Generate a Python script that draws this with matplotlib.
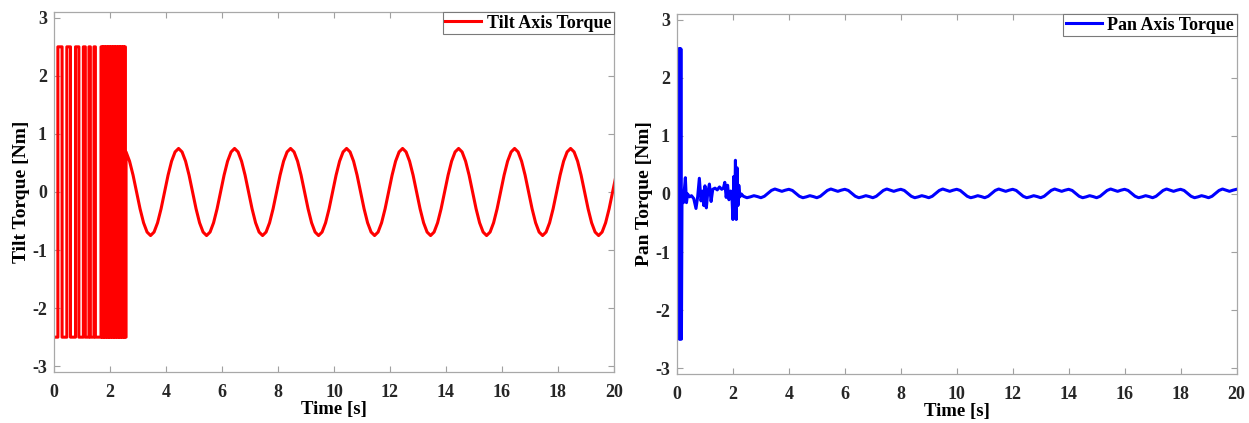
import numpy as np
import matplotlib

matplotlib.use("Agg")
import matplotlib.pyplot as plt

# tilt axis: chattering square wave, switch times [s] and level after each switch [Nm]
tilt_switch_t = [
    0.00, 0.14, 0.29, 0.46, 0.59, 0.77, 0.89, 1.05, 1.12, 1.25, 1.30, 1.43, 1.48,
    1.68, 1.71, 1.74, 1.77, 1.80, 1.83, 1.86, 1.89, 1.92, 1.95, 1.98, 2.01, 2.04,
    2.07, 2.10, 2.13, 2.16, 2.19, 2.22, 2.25, 2.28, 2.31, 2.34, 2.37, 2.40, 2.43,
    2.46, 2.49, 2.52, 2.55, 2.575,
]
tilt_switch_level = [
    -2.5, 2.5, -2.5, 2.5, -2.5, 2.5, -2.5, 2.5, -2.5, 2.5, -2.5, 2.5, -2.5,
    2.5, -2.5, 2.5, -2.5, 2.5, -2.5, 2.5, -2.5, 2.5, -2.5, 2.5, -2.5, 2.5,
    -2.5, 2.5, -2.5, 2.5, -2.5, 2.5, -2.5, 2.5, -2.5, 2.5, -2.5, 2.5, -2.5,
    2.5, -2.5, 2.5, -2.5, -2.5,
]

# tilt axis after chattering, read every 0.125 s from 2.575 s
tilt_osc_t0, tilt_osc_dt = 2.575, 0.125
tilt_osc = [
    0.69, 0.53, 0.29, 0.0, -0.29, -0.53, -0.69, -0.75, -0.69, -0.53, -0.29, 0.0, 0.29, 0.53, 0.69, 0.75,
    0.69, 0.53, 0.29, 0.0, -0.29, -0.53, -0.69, -0.75, -0.69, -0.53, -0.29, 0.0, 0.29, 0.53, 0.69, 0.75,
    0.69, 0.53, 0.29, 0.0, -0.29, -0.53, -0.69, -0.75, -0.69, -0.53, -0.29, 0.0, 0.29, 0.53, 0.69, 0.75,
    0.69, 0.53, 0.29, 0.0, -0.29, -0.53, -0.69, -0.75, -0.69, -0.53, -0.29, 0.0, 0.29, 0.53, 0.69, 0.75,
    0.69, 0.53, 0.29, 0.0, -0.29, -0.53, -0.69, -0.75, -0.69, -0.53, -0.29, 0.0, 0.29, 0.53, 0.69, 0.75,
    0.69, 0.53, 0.29, 0.0, -0.29, -0.53, -0.69, -0.75, -0.69, -0.53, -0.29, 0.0, 0.29, 0.53, 0.69, 0.75,
    0.69, 0.53, 0.29, 0.0, -0.29, -0.53, -0.69, -0.75, -0.69, -0.53, -0.29, 0.0, 0.29, 0.53, 0.69, 0.75,
    0.69, 0.53, 0.29, 0.0, -0.29, -0.53, -0.69, -0.75, -0.69, -0.53, -0.29, 0.0, 0.29, 0.53, 0.69, 0.75,
    0.69, 0.53, 0.29, 0.0, -0.29, -0.53, -0.69, -0.75, -0.69, -0.53, -0.29, 0.0, 0.29,
]

# pan axis transient (start spike + noisy part)
pan_transient_t = [
    0.00, 0.04, 0.06, 0.08, 0.10, 0.12, 0.14, 0.16, 0.18, 0.20, 0.23, 0.26, 0.30,
    0.34, 0.38, 0.45, 0.52, 0.60, 0.68, 0.74, 0.80, 0.86, 0.92, 0.96, 1.00, 1.05,
    1.10, 1.16, 1.22, 1.28, 1.36, 1.44, 1.52, 1.60, 1.66, 1.71, 1.76, 1.81, 1.86,
    1.92, 1.97, 2.00, 2.03, 2.06, 2.09, 2.12, 2.15, 2.18, 2.21, 2.25, 2.30,
]
pan_transient = [
    0.0, 0.0, 2.5, -2.5, 2.5, -2.5, 2.5, -2.5, -0.1, -0.05, -0.15, 0.05, 0.28,
    -0.15, 0.0, -0.05, -0.03, -0.08, -0.25, -0.05, 0.27, -0.12, 0.05, -0.2, 0.14, -0.24,
    0.02, 0.17, -0.13, 0.08, 0.1, 0.07, 0.12, 0.08, 0.1, 0.2, -0.06, 0.15, -0.1,
    0.05, -0.1, -0.44, 0.3, -0.35, 0.58, -0.44, 0.45, -0.2, 0.15, -0.05, 0.0,
]

# pan axis steady part, read every 0.125 s from 2.375 s
pan_osc_t0, pan_osc_dt = 2.375, 0.125
pan_osc = [
    -0.04, -0.065, -0.05, -0.03, -0.045, -0.065, -0.04, 0.01, 0.06, 0.085, 0.065, 0.045, 0.065, 0.08, 0.06, 0.01,
    -0.04, -0.065, -0.05, -0.03, -0.045, -0.065, -0.04, 0.01, 0.06, 0.085, 0.065, 0.045, 0.065, 0.08, 0.06, 0.01,
    -0.04, -0.065, -0.05, -0.03, -0.045, -0.065, -0.04, 0.01, 0.06, 0.085, 0.065, 0.045, 0.065, 0.08, 0.06, 0.01,
    -0.04, -0.065, -0.05, -0.03, -0.045, -0.065, -0.04, 0.01, 0.06, 0.085, 0.065, 0.045, 0.065, 0.08, 0.06, 0.01,
    -0.04, -0.065, -0.05, -0.03, -0.045, -0.065, -0.04, 0.01, 0.06, 0.085, 0.065, 0.045, 0.065, 0.08, 0.06, 0.01,
    -0.04, -0.065, -0.05, -0.03, -0.045, -0.065, -0.04, 0.01, 0.06, 0.085, 0.065, 0.045, 0.065, 0.08, 0.06, 0.01,
    -0.04, -0.065, -0.05, -0.03, -0.045, -0.065, -0.04, 0.01, 0.06, 0.085, 0.065, 0.045, 0.065, 0.08, 0.06, 0.01,
    -0.04, -0.065, -0.05, -0.03, -0.045, -0.065, -0.04, 0.01, 0.06, 0.085, 0.065, 0.045, 0.065, 0.08, 0.06, 0.01,
    -0.04, -0.065, -0.05, -0.03, -0.045, -0.065, -0.04, 0.01, 0.06, 0.085, 0.065, 0.045, 0.065, 0.08,
]

x_ticks = [0, 2, 4, 6, 8, 10, 12, 14, 16, 18, 20]
y_ticks = [-3, -2, -1, 0, 1, 2, 3]

plt.rcParams["font.family"] = ["Liberation Serif", "DejaVu Serif"]
plt.rcParams["font.weight"] = "bold"
plt.rcParams["axes.labelweight"] = "bold"
plt.rcParams["axes.unicode_minus"] = False


def step_points(t, level):
    # expand switch times into a step trace
    t = np.asarray(t)
    level = np.asarray(level)
    return np.repeat(t, 2)[1:], np.repeat(level, 2)[:-1]


def style_axes(ax, ylabel):
    ax.set_xlim(0, 20)
    ax.set_ylim(-3.1, 3.1)
    ax.set_xticks(x_ticks)
    ax.set_yticks(y_ticks)
    ax.set_xlabel("Time [s]", fontsize=13.5, labelpad=0)
    ax.set_ylabel(ylabel, fontsize=14)
    ax.yaxis.set_label_coords(-0.042, 0.5)
    ax.tick_params(
        direction="in", top=True, right=True, length=4, width=0.8,
        color="#a0a0a0", labelsize=13, labelcolor="#262626",
    )
    ax.tick_params(axis="x", pad=9)
    ax.tick_params(axis="y", pad=5)
    for spine in ax.spines.values():
        spine.set_color("#a8a8a8")
        spine.set_linewidth(0.9)
    leg = ax.legend(
        loc="upper right", borderaxespad=0, fontsize=13, handlelength=2.0,
        handletextpad=0.3, borderpad=0.15, fancybox=False, framealpha=1,
    )
    leg.get_frame().set_edgecolor("#7a7a7a")
    leg.get_frame().set_linewidth(0.8)


def main():
    fig = plt.figure(figsize=(12.49, 4.23), dpi=100)
    ax_tilt = fig.add_axes([0.0432, 0.1206, 0.4484, 0.851])
    ax_pan = fig.add_axes([0.542, 0.116, 0.448, 0.851])

    # tilt torque
    chat_t, chat_y = step_points(tilt_switch_t, tilt_switch_level)
    osc_t = tilt_osc_t0 + tilt_osc_dt * np.arange(len(tilt_osc))
    tilt_t = np.concatenate([chat_t, osc_t])
    tilt_y = np.concatenate([chat_y, tilt_osc])
    ax_tilt.plot(tilt_t, tilt_y, color="#ff0000", lw=2.2, label="Tilt Axis Torque")
    style_axes(ax_tilt, "Tilt Torque [Nm]")

    # pan torque
    pan_steady_t = pan_osc_t0 + pan_osc_dt * np.arange(len(pan_osc))
    pan_t = np.concatenate([pan_transient_t, pan_steady_t])
    pan_y = np.concatenate([pan_transient, pan_osc])
    ax_pan.plot(pan_t, pan_y, color="#0000ff", lw=2.2, label="Pan Axis Torque")
    style_axes(ax_pan, "Pan Torque [Nm]")

    fig.savefig("out.png", dpi=100)


if __name__ == "__main__":
    main()
